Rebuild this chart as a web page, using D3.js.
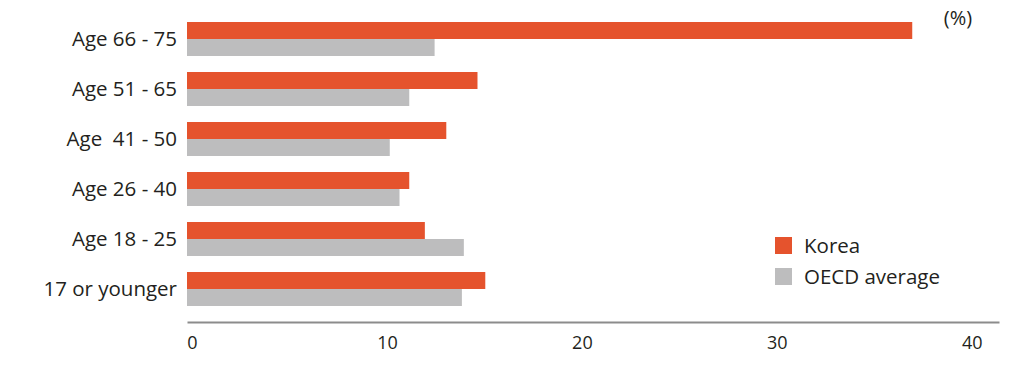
<!DOCTYPE html>
<html>
<head>
<meta charset="utf-8">
<script src="https://cdn.jsdelivr.net/npm/d3@7"></script>
<style>
body { margin: 0; background: #fff; }
text { font-family: "Open Sans", Lato, sans-serif; fill: #231f20; }
</style>
</head>
<body>
<div id="chart-area"></div>
<script>
// chart size
var width = 1024,
	height = 366;

// data
var categories = ["Age 66 - 75", "Age 51 - 65", "Age  41 - 50", "Age 26 - 40", "Age 18 - 25", "17 or younger"];
var series = ["Korea", "OECD average"];
var korea = [37.2, 14.9, 13.3, 11.4, 12.2, 15.3];
var oecd = [12.7, 11.4, 10.4, 10.9, 14.2, 14.1];
var tickValues = [0, 10, 20, 30, 40];
var colors = ["#e5532d", "#bdbdbe"];

var rows = categories.map(function(c, i) {
	return {cat: c, values: [korea[i], oecd[i]]};
});

var svg = d3.select("#chart-area").append("svg")
	.attr("width", width)
	.attr("height", height);

// x scale runs a little past 40 so the axis line reaches the right edge
var xScale = d3.scaleLinear()
	.domain([0, 41.65])
	.range([187, 999]);

var yScale = d3.scaleBand()
	.domain(categories)
	.range([22, 306])
	.paddingInner(0.32)
	.paddingOuter(0);

var seriesScale = d3.scaleBand()
	.domain(series)
	.range([0, yScale.bandwidth()]);

var color = d3.scaleOrdinal()
	.domain(series)
	.range(colors);

// bars
var groups = svg.selectAll("g.group")
	.data(rows)
	.enter()
	.append("g")
	.attr("class", "group")
	.attr("transform", function(d) {
		return "translate(0," + yScale(d.cat) + ")";
	});

groups.selectAll("rect")
	.data(function(d) {
		return d.values.map(function(v, i) { return {s: series[i], v: v}; });
	})
	.enter()
	.append("rect")
	.attr("x", xScale(0))
	.attr("y", function(d) { return seriesScale(d.s); })
	.attr("width", function(d) { return xScale(d.v) - xScale(0); })
	.attr("height", seriesScale.bandwidth())
	.attr("fill", function(d) { return color(d.s); });

// category labels
svg.selectAll("text.cat")
	.data(categories)
	.enter()
	.append("text")
	.attr("class", "cat")
	.attr("x", 177)
	.attr("y", function(d) { return yScale(d) + yScale.bandwidth() / 2; })
	.attr("dy", "0.35em")
	.attr("text-anchor", "end")
	.style("font-size", "20.5px")
	.style("white-space", "pre")
	.text(function(d) { return d; });

// x axis
var xAxis = d3.axisBottom(xScale)
	.tickValues(tickValues)
	.tickSize(0)
	.tickPadding(14)
	.tickFormat(d3.format("d"));

var axisG = svg.append("g")
	.attr("class", "axis xAxis")
	.attr("transform", "translate(0,322)")
	.call(xAxis);

axisG.select(".domain")
	.attr("stroke", "#8c8c8c")
	.attr("stroke-width", 2);

axisG.selectAll(".tick text")
	.attr("dx", 5)
	.style("font-size", "18px")
	.style("font-family", "'Open Sans', Lato, sans-serif")
	.attr("fill", "#231f20");

// unit label
svg.append("text")
	.attr("x", 958)
	.attr("y", 18)
	.attr("dy", "0.35em")
	.attr("text-anchor", "middle")
	.style("font-size", "20px")
	.text("(%)");

// legend
var legend = svg.selectAll("g.legend")
	.data(series)
	.enter()
	.append("g")
	.attr("class", "legend")
	.attr("transform", function(d, i) {
		return "translate(775," + (237 + i * 31) + ")";
	});

legend.append("rect")
	.attr("width", 17)
	.attr("height", 17)
	.attr("fill", function(d) { return color(d); });

legend.append("text")
	.attr("x", 29)
	.attr("y", 8.5)
	.attr("dy", "0.35em")
	.style("font-size", "20.5px")
	.text(function(d) { return d; });
</script>
</body>
</html>
